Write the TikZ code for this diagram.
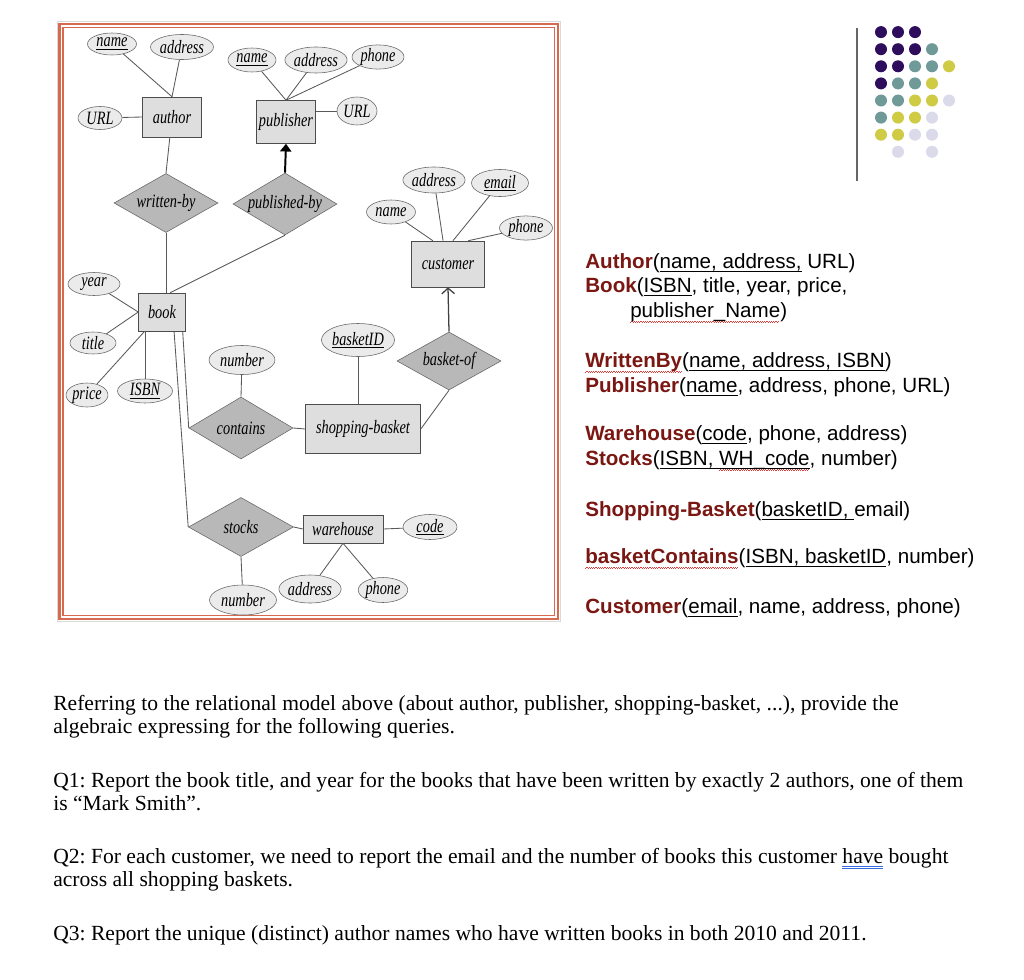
\documentclass[tikz,border=0pt]{standalone}
\usepackage{fontspec}
\setmainfont{Liberation Serif}
\newfontfamily\schemafont{Liberation Sans}
\newfontfamily\erfont[FakeStretch=0.76]{Liberation Serif}
\usepackage{xcolor}
\usetikzlibrary{arrows.meta, shapes.geometric}
\frenchspacing

\newlength\px
\setlength\px{0.025cm}

\definecolor{framec}{HTML}{D66A4E}
\definecolor{relred}{HTML}{7A1712}
\definecolor{spellred}{HTML}{E03A3A}
\definecolor{gramblue}{HTML}{3A6AE0}
\definecolor{dotP}{HTML}{2E0E5C}
\definecolor{dotT}{HTML}{6F9A98}
\definecolor{dotY}{HTML}{CFCB45}
\definecolor{dotL}{HTML}{DADAEA}
\definecolor{dotN}{HTML}{FFFFFF}

\newcommand{\erfnt}{\erfont\itshape\fontsize{13.4}{15}\selectfont}
\newcommand{\rn}[1]{\textcolor{relred}{\bfseries #1}}
% underlines drawn under a boxed word
\newcommand{\ul}[1]{\setbox0\hbox{#1}%
  \rlap{\color{black}\rule[-2.4pt]{\wd0}{0.55pt}}\box0\relax}
\newcommand{\sqg}[1]{\setbox0\hbox{#1}%
  \rlap{\color{spellred}\leaders\hbox{\rule[-3.9pt]{0.8pt}{0.45pt}%
  \rule[-3.4pt]{0.8pt}{0.45pt}}\hskip\wd0}\box0\relax}
\newcommand{\duu}[1]{\setbox0\hbox{#1}%
  \rlap{\color{gramblue}\rule[-2.5pt]{\wd0}{0.45pt}%
  \llap{\rule[-3.7pt]{\wd0}{0.45pt}}}\box0\relax}

\begin{document}
\begin{tikzpicture}[
  x=0.025cm, y=-0.025cm,
  sz/.style 2 args={minimum width=#1\px, minimum height=#2\px},
  ent/.style={draw=black!70, fill=black!13, rectangle, inner sep=0pt,
              font=\erfnt},
  rel/.style={draw=black!60, fill=black!28, diamond, aspect=1.7,
              inner sep=0pt, font=\erfnt},
  att/.style={draw=black!60, fill=black!8, ellipse, inner sep=0pt,
              font=\erfnt},
  link/.style={draw=black!65, line width=0.6pt},
  onearr/.style={line width=1.4pt, -{Triangle[length=5.5pt, width=8pt]}},
  manyarr/.style={line width=0.9pt, draw=black!75,
                  -{Straight Barb[length=4pt, width=9pt]}},
  schema/.style={inner sep=0pt, anchor=base west,
                 font=\schemafont\fontsize{14.65}{17}\selectfont},
  qtext/.style={inner sep=0pt, anchor=base west,
                font=\fontsize{15.35}{17}\selectfont}
]
\fill[white] (0,0) rectangle (1024,979);
\useasboundingbox (0,0) rectangle (1024,979);

% Frame round the E-R diagram
\draw[black!15, line width=0.6pt] (57,21.5) rectangle (560.5,621.5);
\draw[framec, line width=1.9pt] (59.5,24) rectangle (558,619);
\draw[framec, line width=0.8pt] (63,27.5) rectangle (554.5,615.5);

% Author
\node[ent, sz={59}{40}] (author) at (172,117) {author};
\node[att, sz={49}{22}] (auName) at (112,44) {\underline{name}};
\node[att, sz={63}{25}] (auAddr) at (182,47) {address};
\node[att, sz={44}{23}] (auURL) at (100,118) {URL};
\node[rel, sz={104}{59}] (wrBy) at (166,203) {written-by};
\draw[link] (auName) -- (author.north);
\draw[link] (auAddr) -- (author.north);
\draw[link] (auURL) -- (author.west);
\draw[link] (author) -- (wrBy.north);

% Publisher
\node[ent, sz={59}{43}] (pub) at (286,122) {publisher};
\node[att, sz={48}{24}] (pName) at (252,60) {\underline{name}};
\node[att, sz={56}{26}] (pAddr) at (316,60) {address};
\node[att, sz={52}{23}] (pPhone) at (378,57) {phone};
\node[att, sz={40}{28}] (pURL) at (357,111) {URL};
\node[rel, sz={104}{62}] (pubBy) at (285,204) {published-by};
\draw[link] (pName) -- (pub.north);
\draw[link] (pAddr) -- (pub.north);
\draw[link] (pPhone) -- (pub.north);
\draw[link] (pub.east |- pURL) -- (pURL);
\draw[onearr] (pubBy.north) -- (pub.south);

% Book
\node[ent, sz={47}{38}] (book) at (162,312) {book};
\node[att, sz={52}{23}] (bYear) at (94,284) {year};
\node[att, sz={46}{22}] (bTitle) at (93,343) {title};
\node[att, sz={42}{24}] (bPrice) at (87,395) {price};
\node[att, sz={55}{24}] (bISBN) at (145,391) {\underline{ISBN}};
\draw[link] (wrBy.south) -- (wrBy.south |- book.north);
\draw[link] (pubBy.south) -- (book.67);
\draw[link] (bYear) -- (book.west);
\draw[link] (bTitle) -- (book.west);
\draw[link] (bPrice) -- (book.-132);
\draw[link] (bISBN) -- (bISBN |- book.south);

% Customer
\node[ent, sz={73}{46}] (cust) at (448,264) {customer};
\node[att, sz={49}{24}] (cName) at (391,212) {name};
\node[att, sz={57}{26}] (cAddr) at (434,180) {address};
\node[att, sz={57}{27}] (cEmail) at (500,183) {\underline{email}};
\node[att, sz={53}{24}] (cPhone) at (526,228) {phone};
\draw[link] (cName) -- (cust.123);
\draw[link] (cAddr) -- (cust.102);
\draw[link] (cEmail) -- (cust.78);
\draw[link] (cPhone) -- (cust.49);

% Shopping basket
\node[ent, sz={115}{49}] (sb) at (363,429) {shopping-basket};
\node[att, sz={68}{33}] (sbID) at (358,340) {\underline{basketID}};
\node[rel, sz={104}{58}] (bOf) at (449,361) {basket-of};
\node[rel, sz={104}{62}] (cont) at (241,428) {contains};
\node[att, sz={66}{29}] (cNum) at (242,360) {number};
\draw[link] (sbID) -- (sbID |- sb.north);
\draw[link] (bOf.south) -- (sb.east);
\draw[manyarr] (bOf.north) -- (cust.south);
\draw[link] (cont.east) -- (sb.west);
\draw[link] (cNum) -- (cont.north);
\draw[link] (book.-43) -- (cont.west);

% Warehouse
\node[rel, sz={105}{59}] (stk) at (241,527) {stocks};
\node[ent, sz={80}{28}] (wh) at (343,529) {warehouse};
\node[att, sz={54}{25}] (whCode) at (430,527) {\underline{code}};
\node[att, sz={67}{30}] (sNum) at (243,600) {number};
\node[att, sz={57}{28}] (whAddr) at (310,589) {address};
\node[att, sz={49}{25}] (whPhone) at (383,590) {phone};
\draw[link] (book.-58) -- (stk.west);
\draw[link] (stk.east) -- (wh.west);
\draw[link] (wh.east) -- (whCode);
\draw[link] (stk.south) -- (sNum);
\draw[link] (whAddr) -- (wh.south);
\draw[link] (whPhone) -- (wh.south);

% Dot pattern
\draw[black!60, line width=0.8pt] (857,28) -- (857,181);
\foreach \row [count=\j] in {{P,P,P},{P,P,P,T},{P,P,T,T,Y},{P,T,T,Y},
                             {T,T,Y,Y,L},{T,Y,Y,L},{Y,Y,L,L},{N,L,N,L}}{
  \foreach \cc [count=\i] in \row
    \fill[dot\cc] (864+17*\i,15+17.1*\j) circle[radius=6\px];
}

% Relational schema
\node[schema] (sAuthor) at (585,268) {\rn{Author}(\ul{name, address,} URL)};
\node[schema] (sBook) at (585,292) {\rn{Book}(\ul{ISBN}, title, year, price,};
\node[schema] (sBook2) at (630,317) {\sqg{publisher\_Name})};
\node[schema] (sWritten) at (585,367) {\rn{\sqg{WrittenBy}}(\ul{name, address, ISBN})};
\node[schema] (sPub) at (585,392) {\rn{Publisher}(\ul{name}, address, phone, URL)};
\node[schema] (sWare) at (585,440) {\rn{Warehouse}(\ul{code}, phone, address)};
\node[schema] (sStocks) at (585,465) {\rn{Stocks}(\ul{ISBN, \sqg{WH\_code}}, number)};
\node[schema] (sShop) at (585,516) {\rn{Shopping-Basket}(\ul{basketID,\ }email)};
\node[schema] (sCont) at (585,563) {\rn{\sqg{basketContains}}(\ul{ISBN, basketID}, number)};
\node[schema] (sCust) at (585,613) {\rn{Customer}(\ul{email}, name, address, phone)};

% Queries
\node[qtext] (intro1) at (53,710) {Referring to the relational model above (about author, publisher, shopping-basket, ...), provide the};
\node[qtext] (intro2) at (53,733) {algebraic expressing for the following queries.};
\node[qtext] (q1a) at (53,787) {Q1: Report the book title, and year for the books that have been written by exactly 2 authors, one of them};
\node[qtext] (q1b) at (53,810) {is “Mark Smith”.};
\node[qtext] (q2a) at (53,863) {Q2: For each customer, we need to report the email and the number of books this customer \duu{have} bought};
\node[qtext] (q2b) at (53,886) {across all shopping baskets.};
\node[qtext] (q3) at (53,940) {Q3: Report the unique (distinct) author names who have written books in both 2010 and 2011.};
\end{tikzpicture}
\end{document}
